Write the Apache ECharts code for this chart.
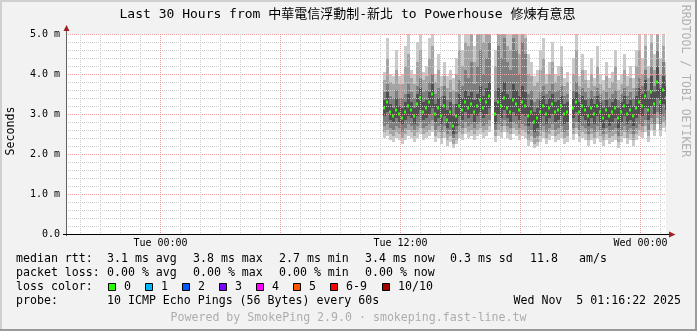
<!DOCTYPE html>
<html><head><meta charset="utf-8">
<script src="https://cdn.jsdelivr.net/npm/echarts@6/dist/echarts.min.js"></script>
<style>html,body{margin:0;padding:0;background:#f2f2f2}#c{width:697px;height:331px}</style>
</head><body><div id="c"></div><script>
// ---------- data ----------
const TITLE = 'Last 30 Hours from 中華電信浮動制-新北 to Powerhouse 修煉有意思';
const T_START = -4.7272;            // hours relative to Tue 00:00 (Mon 19:16:22)
const T_END = 25.2728;              // Wed 01:16:22
const HOUR_TICKS = [-4,-3,-2,-1,1,2,3,4,5,7,8,9,10,11,13,14,15,16,17,19,20,21,22,23,25];
const MAJOR_TICKS = [0,6,12,18,24];
const LABEL_HOURS = [0,12,24];
const TIME_LABELS = ['Tue 00:00','Tue 12:00','Wed 00:00'];
const Y_LABELS = ['0.0','1.0 m','2.0 m','3.0 m','4.0 m','5.0 m'];
const T0 = 11.1;    // first sample (hours rel. Tue 00:00)
const STEP = 0.15;  // 9 minutes per sample

const median = [3.15,3.30,3.05,2.95,3.10,3.00,2.90,3.05,3.20,3.10,
 2.95,3.25,3.40,3.05,3.15,3.30,3.50,3.00,3.15,2.95,
 3.20,2.85,3.05,2.70,2.95,3.20,3.10,3.30,3.15,3.25,
 3.05,3.20,3.35,3.15,3.30,3.45,null,3.00,3.30,3.20,
 3.40,3.15,3.05,3.35,3.25,3.10,3.30,3.20,2.95,3.05,
 2.80,2.90,3.05,3.20,3.00,3.15,3.25,3.05,3.10,3.20,
 3.00,3.05,null,3.15,3.30,3.05,3.20,3.10,2.95,3.15,
 3.00,3.20,3.05,2.90,3.10,2.95,3.05,3.15,2.90,3.05,
 3.20,3.00,3.10,2.95,3.15,3.30,3.20,3.45,3.10,3.55,
 3.25,3.80,3.30,3.60,3.40];
const b4lo = [2.95,3.05,2.85,2.80,2.90,2.80,2.75,2.85,2.95,2.90,
 2.75,2.95,3.10,2.85,2.90,3.00,3.15,2.80,2.90,2.75,
 2.95,2.65,2.80,2.50,2.70,2.95,2.85,3.05,2.90,3.00,
 2.80,2.95,3.05,2.90,3.00,3.15,null,2.75,3.00,2.90,
 3.10,2.90,2.80,3.05,2.95,2.85,3.00,2.95,2.70,2.80,
 2.55,2.65,2.80,2.95,2.75,2.90,3.00,2.80,2.85,2.95,
 2.75,2.80,null,2.90,3.05,2.80,2.95,2.85,2.70,2.90,
 2.75,2.95,2.80,2.65,2.85,2.70,2.80,2.90,2.65,2.80,
 2.95,2.75,2.85,2.70,2.90,3.00,2.95,3.15,2.85,3.20,
 3.00,3.40,3.00,3.25,3.10];
const b4hi = [3.35,3.55,3.25,3.15,3.40,3.20,3.15,3.30,3.50,3.30,
 3.15,3.50,3.65,3.30,3.35,3.55,3.75,3.25,3.40,3.20,
 3.45,3.10,3.30,2.95,3.25,3.50,3.40,3.60,3.45,3.55,
 3.35,3.50,3.70,3.45,3.65,3.80,null,3.30,3.65,3.55,
 3.80,3.50,3.40,3.75,3.60,3.45,3.70,3.55,3.20,3.35,
 3.05,3.15,3.35,3.45,3.25,3.40,3.50,3.30,3.35,3.45,
 3.25,3.30,null,3.40,3.55,3.30,3.45,3.35,3.20,3.40,
 3.25,3.45,3.30,3.15,3.35,3.20,3.30,3.40,3.15,3.30,
 3.45,3.25,3.35,3.20,3.45,3.65,3.50,3.85,3.40,3.95,
 3.55,4.20,3.65,3.95,3.70];
const b3lo = [2.70,2.75,2.65,2.60,2.70,2.65,2.55,2.65,2.75,2.70,
 2.60,2.70,2.80,2.65,2.70,2.75,2.85,2.60,2.70,2.55,
 2.70,2.50,2.60,2.40,2.50,2.70,2.65,2.80,2.70,2.75,
 2.65,2.75,2.80,2.70,2.75,2.85,null,2.60,2.75,2.70,
 2.85,2.70,2.65,2.80,2.75,2.65,2.75,2.70,2.50,2.60,
 2.40,2.45,2.60,2.70,2.55,2.65,2.75,2.60,2.65,2.70,
 2.55,2.60,null,2.65,2.80,2.60,2.70,2.65,2.50,2.65,
 2.55,2.70,2.60,2.50,2.65,2.55,2.60,2.65,2.45,2.60,
 2.70,2.55,2.65,2.50,2.65,2.75,2.70,2.85,2.60,2.90,
 2.75,3.05,2.75,2.95,2.85];
const b3hi = [3.55,3.75,3.45,3.40,3.60,3.40,3.40,3.50,3.75,3.55,
 3.40,3.70,3.90,3.55,3.60,3.80,4.00,3.50,3.65,3.45,
 3.70,3.35,3.55,3.25,3.55,3.85,3.70,4.10,3.90,4.30,
 3.75,4.20,4.60,4.00,4.40,4.80,null,3.60,4.70,4.40,
 4.90,4.30,4.10,4.90,4.60,4.00,4.80,4.50,3.50,3.60,
 3.30,3.40,3.55,3.70,3.50,3.60,3.75,3.55,3.60,3.70,
 3.45,3.50,null,3.60,3.80,3.50,3.65,3.55,3.40,3.60,
 3.45,3.65,3.50,3.35,3.55,3.40,3.50,3.60,3.35,3.50,
 3.65,3.45,3.55,3.40,3.65,3.90,3.70,4.10,3.60,4.20,
 3.70,4.60,3.75,4.30,3.85];
const b2lo = [2.55,2.60,2.50,2.45,2.55,2.50,2.40,2.50,2.60,2.55,
 2.45,2.55,2.65,2.50,2.55,2.60,2.70,2.45,2.55,2.40,
 2.55,2.35,2.45,2.25,2.35,2.55,2.50,2.65,2.55,2.60,
 2.50,2.60,2.65,2.55,2.60,2.70,null,2.45,2.60,2.55,
 2.70,2.55,2.50,2.65,2.60,2.50,2.60,2.55,2.35,2.45,
 2.25,2.30,2.45,2.55,2.40,2.50,2.60,2.45,2.50,2.55,
 2.40,2.45,null,2.50,2.65,2.45,2.55,2.50,2.35,2.50,
 2.40,2.55,2.45,2.35,2.50,2.40,2.45,2.50,2.30,2.45,
 2.55,2.40,2.50,2.35,2.50,2.60,2.55,2.70,2.45,2.75,
 2.60,2.90,2.60,2.80,2.70];
const b2hi = [3.85,4.40,3.80,3.75,4.10,3.75,3.75,4.20,4.50,3.90,
 3.75,4.30,4.60,3.85,3.95,4.40,4.70,3.80,4.10,3.70,
 3.95,3.65,3.85,3.60,4.00,4.60,4.20,4.80,4.70,5.00,
 4.30,5.00,5.00,4.80,5.00,5.00,null,4.20,5.00,5.00,
 5.00,4.70,4.60,5.00,5.00,4.50,5.00,4.90,4.00,3.95,
 3.70,3.80,4.10,4.40,3.75,4.00,4.30,3.80,3.95,4.20,
 3.70,3.80,null,4.00,4.60,3.70,4.10,3.85,3.65,4.00,
 3.70,4.20,3.75,3.60,3.95,3.65,3.80,4.20,3.60,3.75,
 4.10,3.70,3.90,3.65,4.20,4.60,4.00,4.70,3.90,4.80,
 4.10,5.00,4.00,4.70,4.00];
const b1lo = [2.40,2.45,2.35,2.30,2.40,2.35,2.25,2.35,2.45,2.40,
 2.30,2.40,2.50,2.35,2.40,2.45,2.55,2.30,2.40,2.25,
 2.40,2.20,2.30,2.15,2.25,2.40,2.35,2.50,2.40,2.45,
 2.35,2.45,2.50,2.40,2.45,2.55,null,2.30,2.45,2.40,
 2.55,2.40,2.35,2.50,2.45,2.35,2.45,2.40,2.20,2.30,
 2.15,2.20,2.30,2.40,2.25,2.35,2.45,2.30,2.35,2.40,
 2.25,2.30,null,2.35,2.50,2.30,2.40,2.35,2.20,2.35,
 2.25,2.40,2.30,2.20,2.35,2.25,2.30,2.35,2.15,2.30,
 2.40,2.25,2.35,2.20,2.35,2.45,2.40,2.55,2.30,2.60,
 2.45,2.75,2.45,2.65,2.55];
const b1hi = [4.05,4.90,4.00,3.95,4.60,3.95,4.00,4.70,5.00,4.10,
 4.00,4.80,5.00,4.05,4.20,4.90,5.00,4.00,4.50,3.95,
 4.30,3.95,4.10,3.90,4.40,5.00,4.60,5.00,5.00,5.00,
 4.70,5.00,5.00,5.00,5.00,5.00,null,4.60,5.00,5.00,
 5.00,5.00,5.00,5.00,5.00,5.00,5.00,5.00,4.50,4.30,
 3.95,4.10,4.60,4.90,4.00,4.30,4.80,4.00,4.20,4.70,
 3.90,4.05,null,4.40,5.00,3.95,4.50,4.10,3.85,4.40,
 3.90,4.70,4.00,3.85,4.30,3.90,4.05,4.60,3.85,4.00,
 4.50,3.95,4.20,3.90,4.60,5.00,4.40,5.00,4.20,5.00,
 4.50,5.00,4.40,5.00,4.30];

const STATS_ROW1 = ['median rtt:','3.1 ms avg','3.8 ms max','2.7 ms min','3.4 ms now','0.3 ms sd','11.8','am/s'];
const STATS_ROW2 = ['packet loss:','0.00 % avg','0.00 % max','0.00 % min','0.00 % now'];
const LOSS_LABELS = ['0','1','2','3','4','5','6-9','10/10'];
const LOSS_COLORS = ['#26ff00','#00b8ff','#0059ff','#7e00ff','#ff00ff','#ff5500','#ff0000','#a10000'];
const PROBE_ROW = ['probe:','10 ICMP Echo Pings (56 Bytes) every 60s'];
const TIMESTAMP = 'Wed Nov  5 01:16:22 2025';
const FOOTER = 'Powered by SmokePing 2.9.0 \u00b7 smokeping.fast-line.tw';
const SIDE_TEXT = 'RRDTOOL / TOBI OETIKER';
const Y_NAME = 'Seconds';

// ---------- layout / style ----------
const MONO = "'DejaVu Sans Mono','Noto Sans CJK TC',monospace";
const ROW1_X = [16,107,193,279,365,450,530,579];
const ROW2_X = [16,107,193,279,365];
const BOX_X = [108,145,182,219,256,293,330,382];
const ROW_Y = [259,273,287,301,318];

function bandSeries(lo, hi, color) {
  return {
    type:'custom', silent:true, animation:false, z:2, clip:true,
    data: lo.map((v,i)=>[T0 + i*STEP, v, hi[i]]),
    encode:{x:0, y:[1,2]},
    renderItem(params, api){
      const lv = api.value(1), hv = api.value(2);
      if (isNaN(lv) || isNaN(hv) || lv === null) return null;
      const t = api.value(0);
      const a = api.coord([t, hv]), b = api.coord([t + STEP, lv]);
      const x = Math.round(a[0]), x2 = Math.round(b[0]);
      return {type:'rect', shape:{x:x, y:a[1], width:x2-x, height:b[1]-a[1]}, style:{fill:color}};
    }
  };
}
const medianSeries = {
  type:'custom', silent:true, animation:false, z:10, clip:true,
  data: median.map((v,i)=>[T0 + i*STEP, v]),
  encode:{x:0, y:1},
  renderItem(params, api){
    const v = api.value(1);
    if (isNaN(v)) return null;
    const p = api.coord([api.value(0), v]);
    return {type:'rect', shape:{x:Math.round(p[0]), y:Math.round(p[1])-1.5, width:2, height:3}, style:{fill:'#26ff00'}};
  }
};

const graphics = [];
// border
graphics.push({type:'rect', shape:{x:0,y:0,width:697,height:2}, style:{fill:'#d0d0d0'}, silent:true});
graphics.push({type:'rect', shape:{x:0,y:0,width:2,height:331}, style:{fill:'#d0d0d0'}, silent:true});
graphics.push({type:'rect', shape:{x:0,y:329,width:697,height:2}, style:{fill:'#9a9a9a'}, silent:true});
graphics.push({type:'rect', shape:{x:695,y:0,width:2,height:331}, style:{fill:'#9a9a9a'}, silent:true});
// axis lines + arrows
graphics.push({type:'line', z:20, shape:{x1:66.5,y1:236,x2:66.5,y2:30}, style:{stroke:'#606060',lineWidth:1}, silent:true});
graphics.push({type:'line', z:20, shape:{x1:63,y1:234.5,x2:670,y2:234.5}, style:{stroke:'#000',lineWidth:1}, silent:true});
graphics.push({type:'polygon', z:21, shape:{points:[[63.5,31],[69.5,31],[66.5,25]]}, style:{fill:'#a02020'}, silent:true});
graphics.push({type:'polygon', z:21, shape:{points:[[669,231.5],[669,237.5],[675.5,234.5]]}, style:{fill:'#a02020'}, silent:true});
// title
graphics.push({type:'text', x:347.5, y:15, style:{text:TITLE, fontFamily:MONO, fontSize:13, fill:'#000', align:'center', verticalAlign:'middle'}, silent:true});
// y name
graphics.push({type:'text', x:10.5, y:131, rotation:Math.PI/2, style:{text:Y_NAME, fontFamily:MONO, fontSize:11.6, fill:'#000', align:'center', verticalAlign:'middle'}, silent:true});
// side text
graphics.push({type:'text', x:684.5, y:81, rotation:-Math.PI/2, style:{text:SIDE_TEXT, fontFamily:MONO, fontSize:11.5, fill:'#b0b0b0', align:'center', verticalAlign:'middle'}, silent:true});
function txt(s, x, y, opt){
  graphics.push({type:'text', x:x, y:y, style:Object.assign({text:s, fontFamily:MONO, fontSize:11.6, fill:'#000', align:'left', verticalAlign:'middle'}, opt||{}), silent:true});
}
STATS_ROW1.forEach((s,i)=>txt(s, ROW1_X[i], ROW_Y[0]));
STATS_ROW2.forEach((s,i)=>txt(s, ROW2_X[i], ROW_Y[1]));
txt('loss color:', 16, ROW_Y[2]);
LOSS_LABELS.forEach((s,i)=>{
  graphics.push({type:'rect', shape:{x:BOX_X[i]+0.5, y:283.5, width:7, height:7}, style:{fill:LOSS_COLORS[i], stroke:'#000', lineWidth:1}, silent:true});
  txt(s, BOX_X[i]+16, ROW_Y[2]);
});
txt(PROBE_ROW[0], 16, ROW_Y[3]);
txt(PROBE_ROW[1], 107, ROW_Y[3]);
txt(TIMESTAMP, 681, ROW_Y[3], {align:'right'});
txt(FOOTER, 348.5, ROW_Y[4], {align:'center', fill:'#adadad'});

const chart = echarts.init(document.getElementById('c'), null, {renderer:'canvas'});
chart.setOption({
  backgroundColor:'#f2f2f2',
  animation:false,
  grid:{left:66, top:34, width:600, height:200, show:true, backgroundColor:'#ffffff', borderWidth:0},
  xAxis:[
    {type:'value', min:T_START, max:T_END, position:'bottom', z:5,
     axisLine:{show:false}, axisTick:{show:false, customValues:HOUR_TICKS},
     axisLabel:{customValues:LABEL_HOURS, formatter:v=>TIME_LABELS[LABEL_HOURS.indexOf(Math.round(v))],
       fontFamily:MONO, fontSize:10, color:'#000', margin:4},
     splitLine:{show:true, lineStyle:{color:'#cccccc', type:[1,1], width:1}}},
    {type:'value', min:T_START, max:T_END, position:'top', z:6,
     axisLine:{show:false}, axisTick:{show:false, customValues:MAJOR_TICKS}, axisLabel:{show:false},
     splitLine:{show:true, lineStyle:{color:'#f0a0a0', type:[1,1], width:1}}}
  ],
  yAxis:{type:'value', min:0, max:5, interval:1, z:5,
    axisLine:{show:false}, axisTick:{show:false},
    axisLabel:{formatter:v=>Y_LABELS[Math.round(v)], fontFamily:MONO, fontSize:10, color:'#000', margin:6},
    splitLine:{show:true, lineStyle:{color:'#f0a0a0', type:[1,1], width:1}},
    minorTick:{show:false, splitNumber:5},
    minorSplitLine:{show:true, lineStyle:{color:'#cccccc', type:[1,1], width:1}}},
  series:[
    bandSeries(b1lo, b1hi, '#cacaca'),
    bandSeries(b2lo, b2hi, '#a4a4a4'),
    bandSeries(b3lo, b3hi, '#7e7e7e'),
    bandSeries(b4lo, b4hi, '#505050'),
    medianSeries
  ],
  graphic:graphics
});
</script></body></html>
